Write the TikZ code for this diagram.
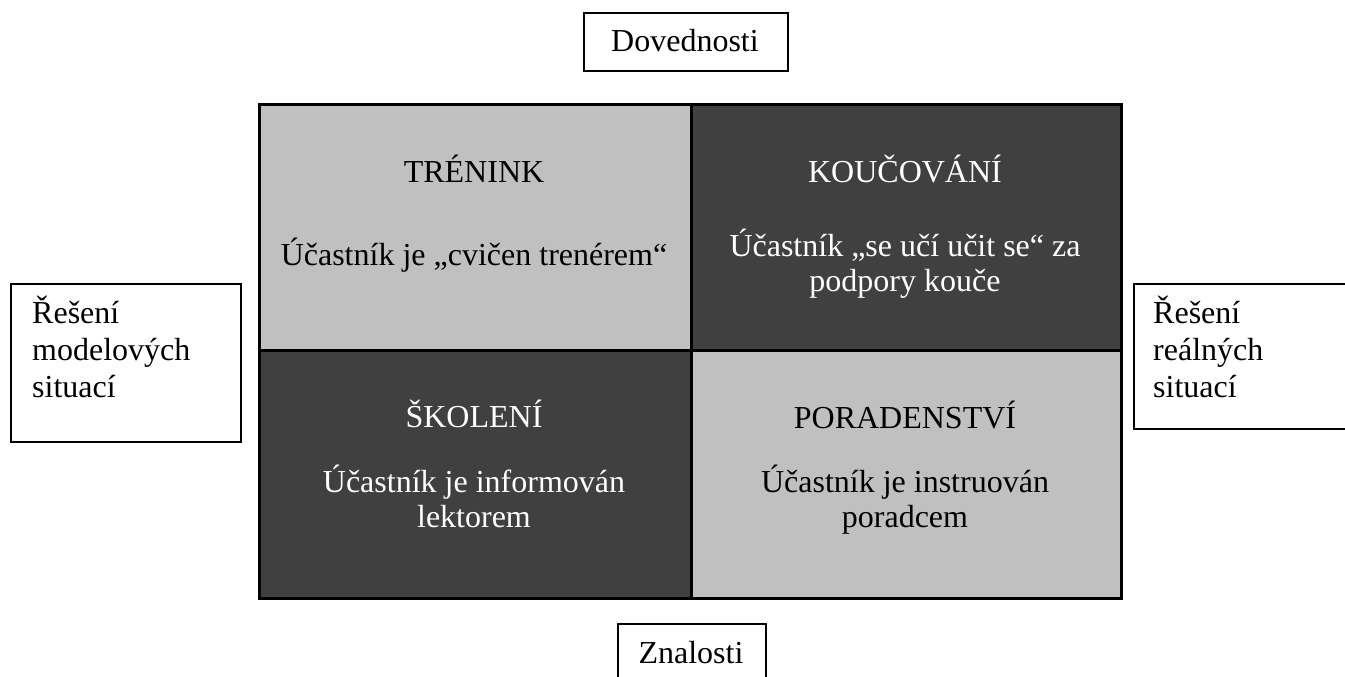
\documentclass[tikz,border=0pt]{standalone}
\usepackage{fontspec}
\setmainfont{Liberation Serif}
\definecolor{cellLight}{HTML}{C0C0C0}
\definecolor{cellDark}{HTML}{404040}
\begin{document}
\begin{tikzpicture}[x=1pt,y=-1pt,
  every node/.style={font=\fontsize{32}{37}\selectfont},
  quad/.style={draw=black, line width=3pt, inner sep=0pt, anchor=north west,
               minimum height=246pt},
  lightquad/.style={quad, fill=cellLight},
  darkquad/.style={quad, fill=cellDark},
  labelbox/.style={draw=black, line width=2pt, inner sep=0pt, anchor=north west},
  % anchor=base of a multi-line node sits on its last line
  ontext/.style={anchor=base, align=center, inner sep=0pt,
                 font=\fontsize{32}{35}\selectfont},
  darktext/.style={ontext, text=white},
  sidetext/.style={anchor=base west, align=left, inner sep=0pt}]
\useasboundingbox (0,0) rectangle (1345,677);
\clip (0,0) rectangle (1345,677);
\fill[white] (0,0) rectangle (1345,677);

% four quadrants of the matrix
\node[lightquad, minimum width=432pt] (trenink)  at (258,103) {};
\node[darkquad,  minimum width=430pt] (koucovani) at (690,103) {};
\node[darkquad,  minimum width=432pt, minimum height=248pt] (skoleni) at (258,349) {};
\node[lightquad, minimum width=430pt, minimum height=248pt] (poradenstvi) at (690,349) {};

% quadrant texts
\node[ontext]   (treninkT)   at (474,182) {TRÉNINK};
\node[ontext]   (treninkD)   at (474,265) {Účastník je „cvičen trenérem“};
\node[darktext] (koucovaniT) at (905,182) {KOUČOVÁNÍ};
\node[darktext] (koucovaniD) at (905,291) {Účastník „se učí učit se“ za\\podpory kouče};
\node[darktext] (skoleniT)   at (474,427) {ŠKOLENÍ};
\node[darktext] (skoleniD)   at (474,527) {Účastník je informován\\lektorem};
\node[ontext]   (poradT)     at (905,428) {PORADENSTVÍ};
\node[ontext]   (poradD)     at (905,527) {Účastník je instruován\\poradcem};

% axis labels
\node[labelbox, minimum width=204pt, minimum height=58pt] (dov) at (583,12) {};
\node[anchor=base, inner sep=0pt] (dovT) at (685,52) {Dovednosti};

\node[labelbox, minimum width=148pt, minimum height=70pt] (zna) at (617,623) {};
\node[anchor=base, inner sep=0pt] (znaT) at (691,663) {Znalosti};

\node[labelbox, minimum width=230pt, minimum height=158pt] (model) at (10,283) {};
\node[sidetext] (modelT) at (32,397) {Řešení\\modelových\\situací};

\node[labelbox, minimum width=230pt, minimum height=145pt] (real) at (1133,283) {};
\node[sidetext] (realT) at (1153,397) {Řešení\\reálných\\situací};
\end{tikzpicture}
\end{document}
